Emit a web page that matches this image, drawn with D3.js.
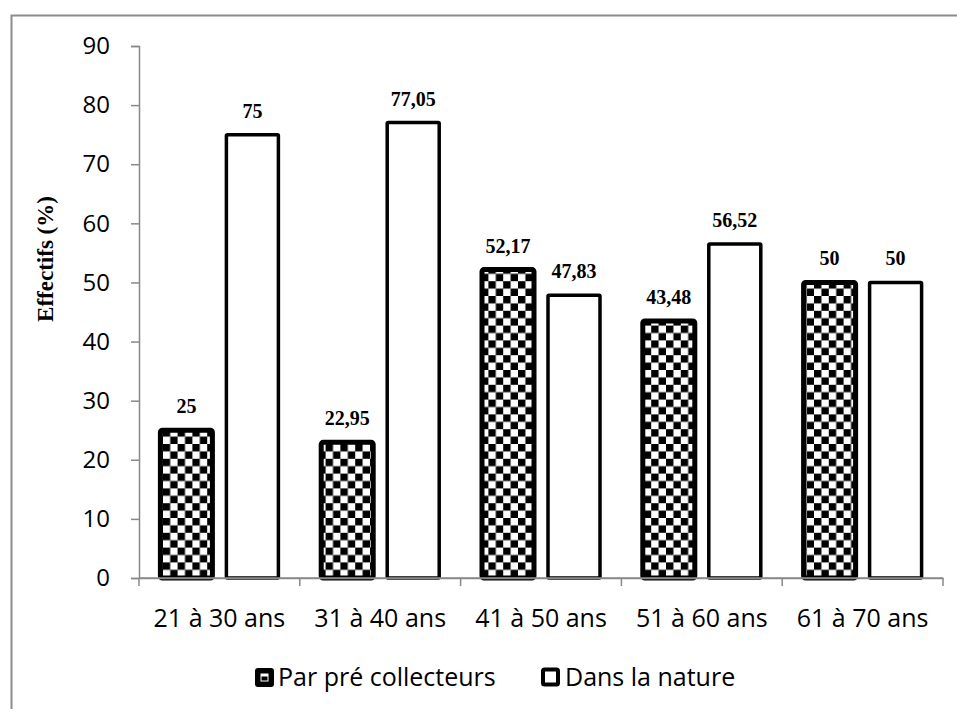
<!DOCTYPE html>
<html><head><meta charset="utf-8">
<script src="https://cdn.jsdelivr.net/npm/d3@7"></script>
<style>body{margin:0;background:#fff}</style>
</head><body>
<script>
const categories = ["21 à 30 ans","31 à 40 ans","41 à 50 ans","51 à 60 ans","61 à 70 ans"];
const seriesNames = ["Par pré collecteurs","Dans la nature"];
const preCollecteurs = [25, 22.95, 52.17, 43.48, 50];
const nature = [75, 77.05, 47.83, 56.52, 50];
const yTicks = [0,10,20,30,40,50,60,70,80,90];
const labelsPre = ["25","22,95","52,17","43,48","50"];
const labelsNat = ["75","77,05","47,83","56,52","50"];

const W = 957, H = 709;
const svg = d3.select("body").append("svg").attr("width", W).attr("height", H);
const defs = svg.append("defs");
const pat = defs.append("pattern").attr("id","checker").attr("patternUnits","userSpaceOnUse")
  .attr("width",14.8).attr("height",14.8);
pat.append("rect").attr("width",14.8).attr("height",14.8).attr("fill","#fff");
pat.append("rect").attr("width",7.4).attr("height",7.4).attr("fill","#000");
pat.append("rect").attr("x",7.4).attr("y",7.4).attr("width",7.4).attr("height",7.4).attr("fill","#000");

// outer frame
svg.append("rect").attr("x",11.5).attr("y",15.5).attr("width",1000).attr("height",1000)
  .attr("fill","none").attr("stroke","#8c8c8c").attr("stroke-width",2);

const x0 = 139, x1 = 943, yTop = 46, yBot = 578;
const x = d3.scaleBand().domain(categories).range([x0, x1]);
const y = d3.scaleLinear().domain([0, 90]).range([yBot, yTop]);

const uiFont = "'Open Sans', 'Noto Sans', sans-serif";
const serif = "'Liberation Serif', 'Times New Roman', serif";
// y axis
const yAxis = svg.append("g").attr("transform",`translate(${x0},0)`)
  .call(d3.axisLeft(y).tickValues(yTicks).tickSize(8).tickPadding(21));
yAxis.select(".domain").attr("stroke","#888").attr("stroke-width",1.5);
yAxis.selectAll(".tick line").attr("stroke","#888").attr("stroke-width",1.5);
yAxis.selectAll(".tick text").attr("font-family",uiFont).style("font-size","24px").attr("fill","#000");

// bars
const off = 33, bw = 52;
const g = svg.append("g");
categories.forEach((c,i) => {
  const cx = x(c) + x.bandwidth()/2;
  g.append("rect").attr("x", cx - off - bw/2).attr("y", y(preCollecteurs[i]))
    .attr("width", bw).attr("height", y(0) - y(preCollecteurs[i]))
    .attr("fill","url(#checker)").attr("stroke","#000").attr("stroke-width",5).attr("rx",2);
  g.append("rect").attr("x", cx + off - bw/2).attr("y", y(nature[i]))
    .attr("width", bw).attr("height", y(0) - y(nature[i]))
    .attr("fill","#fff").attr("stroke","#000").attr("stroke-width",3.5).attr("rx",1);
  g.append("text").attr("x", cx - off).attr("y", y(preCollecteurs[i]) - 17)
    .attr("text-anchor","middle").attr("font-family",serif)
    .attr("font-weight","bold").style("font-size","20px").text(labelsPre[i]);
  g.append("text").attr("x", cx + off).attr("y", y(nature[i]) - 17)
    .attr("text-anchor","middle").attr("font-family",serif)
    .attr("font-weight","bold").style("font-size","20px").text(labelsNat[i]);
});

// x axis
const xAxis = svg.append("g").attr("transform",`translate(0,${yBot})`)
  .call(d3.axisBottom(x).tickSize(0).tickPadding(49));
xAxis.select(".domain").attr("stroke","#888").attr("stroke-width",1.5);
xAxis.selectAll(".tick text").attr("font-family",uiFont).style("font-size","25px").attr("fill","#000").attr("dy","0");
const bounds = [x0].concat(categories.map(c => x(c) + x.bandwidth()));
xAxis.selectAll(".bnd").data(bounds).enter().append("line")
  .attr("x1",d=>d).attr("x2",d=>d).attr("y1",0).attr("y2",8)
  .attr("stroke","#888").attr("stroke-width",1.5);
svg.append("line").attr("x1",x0).attr("x2",x1).attr("y1",yBot).attr("y2",yBot)
  .attr("stroke","#888").attr("stroke-width",1.5);

// y title
svg.append("text").attr("transform","translate(53,259) rotate(-90)")
  .attr("text-anchor","middle").attr("font-family",serif)
  .attr("font-weight","bold").style("font-size","23px").text("Effectifs (%)");

// legend
const leg = svg.append("g");
leg.append("rect").attr("x",255).attr("y",668).attr("width",19).attr("height",19).attr("rx",3).attr("fill","#000");
leg.append("rect").attr("x",261).attr("y",674).attr("width",7).attr("height",7).attr("fill","none").attr("stroke","#fff").attr("stroke-width",1);
leg.append("rect").attr("x",261).attr("y",674).attr("width",7).attr("height",2.5).attr("fill","#fff");
leg.append("text").attr("x",278).attr("y",686).attr("font-family",uiFont).style("font-size","25px").text(seriesNames[0]);
leg.append("rect").attr("x",543).attr("y",669.5).attr("width",15).attr("height",15).attr("rx",1.5)
  .attr("fill","#fff").attr("stroke","#000").attr("stroke-width",4);
leg.append("text").attr("x",565).attr("y",686).attr("font-family",uiFont).style("font-size","25px").text(seriesNames[1]);
</script>
</body></html>
